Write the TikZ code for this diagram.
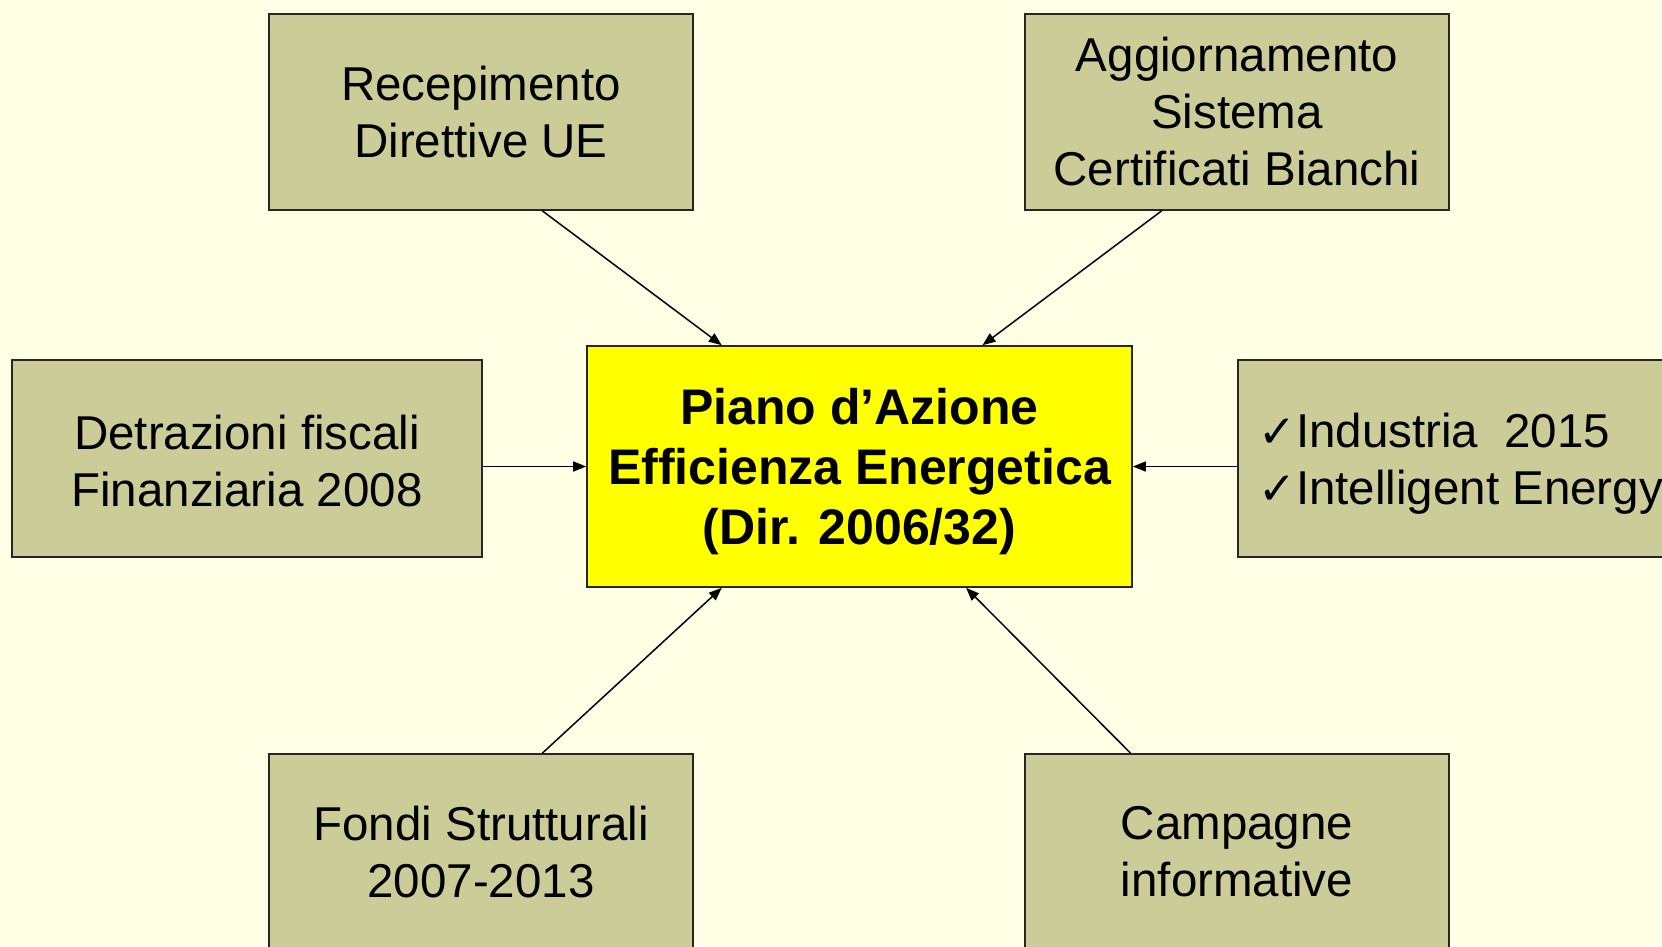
\documentclass[tikz,border=0pt]{standalone}
\usepackage{fontspec}
\setmainfont{Liberation Sans}
\newfontfamily\symfont{DejaVu Sans Bold}
\usetikzlibrary{arrows.meta,calc}
\definecolor{bgc}{HTML}{FFFFE5}
\definecolor{boxc}{HTML}{CCCC99}
\definecolor{ctrc}{HTML}{FFFF00}
\newcommand{\ck}{{\symfont\scalebox{0.95}{✓}}}
\begin{document}
\begin{tikzpicture}[x=1pt,y=-1pt,
  box/.style={draw=black!85, line width=1.6pt, fill=boxc, minimum width=424pt, minimum height=196pt,
     align=center, inner sep=0pt, font=\fontsize{47.5}{57}\selectfont},
  ctr/.style={draw=black!85, line width=1.6pt, fill=ctrc, minimum width=545pt, minimum height=241pt,
     inner sep=0pt},
  arr/.style={line width=1.5pt, -{Triangle[length=13pt,width=10pt]}}]
\useasboundingbox (0,0) rectangle (1662,946);
\clip (0,0) rectangle (1662,946);
\fill[bgc] (0,0) rectangle (1662,946);
\node[box] (tl) at (481,112) {Recepimento\\Direttive UE};
\node[box] (tr) at (1237,112) {Aggiornamento\\Sistema\\Certificati Bianchi};
\node[ctr, label={[align=center, inner sep=0pt, yshift=-5.5pt, font=\fontsize{50}{60}\selectfont\bfseries]center:{Piano d’Azione\\Efficienza Energetica\\(Dir. 2006/32)}}] (c) at (859.5,466.5) {};
\node[box, minimum width=470pt, minimum height=197pt, label={[align=center, inner sep=0pt, yshift=-3pt, font=\fontsize{47.5}{57}\selectfont]center:{Detrazioni fiscali\\Finanziaria 2008}}] (l) at (247,458.5) {};
\node[box, minimum width=470pt, minimum height=197pt, anchor=west, label={[align=left, anchor=west, inner sep=0pt, xshift=21pt, yshift=-5pt, font=\fontsize{47.5}{57}\selectfont]west:{\ck Industria\ \ 2015\\\ck Intelligent Energy}}] (r) at (1237,458.5) {};
\node[box] (bl) at (481,852) {Fondi Strutturali\\2007-2013};
\node[box] (br) at (1237,852) {Campagne\\informative};
\draw[arr] ($(tl.south west)!0.644!(tl.south east)$) -- ($(c.north west)!0.248!(c.north east)$);
\draw[arr] ($(tr.south west)!0.323!(tr.south east)$) -- ($(c.north west)!0.725!(c.north east)$);
\draw[arr] (c.west -| l.east) -- (c.west);
\draw[arr] (c.east -| r.west) -- (c.east);
\draw[arr] ($(bl.north west)!0.644!(bl.north east)$) -- ($(c.south west)!0.248!(c.south east)$);
\draw[arr] ($(br.north west)!0.25!(br.north east)$) -- ($(c.south west)!0.695!(c.south east)$);
\end{tikzpicture}
\end{document}
